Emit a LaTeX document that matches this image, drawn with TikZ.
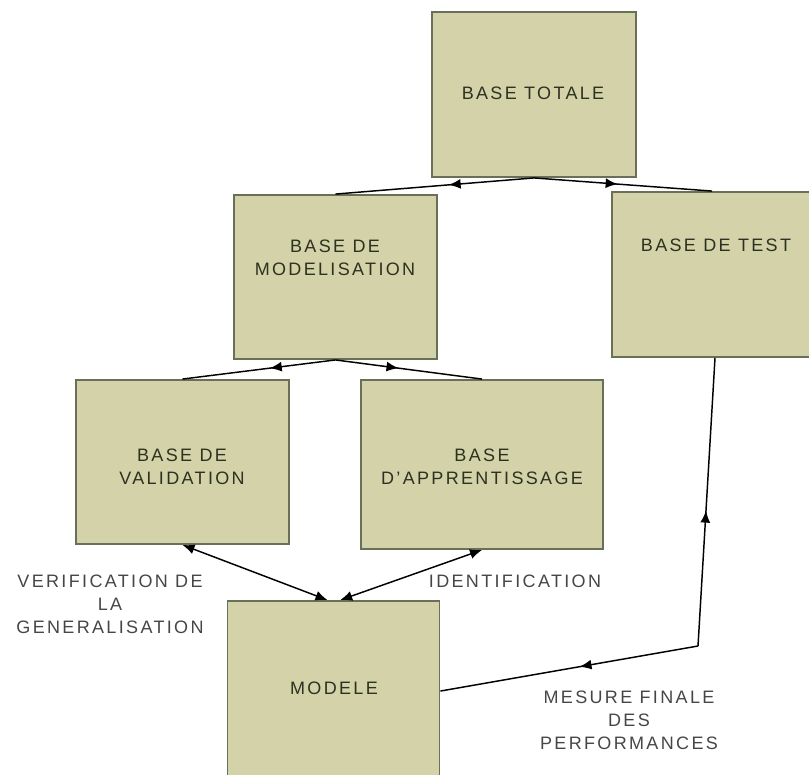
\documentclass[tikz,border=0pt]{standalone}
\usepackage{fontspec}
\setmainfont{Liberation Sans}[LetterSpace=13]
\usetikzlibrary{arrows.meta,decorations.markings}
\definecolor{boxfill}{RGB}{211,210,168}
\definecolor{boxline}{RGB}{105,112,88}
\definecolor{boxtext}{RGB}{45,50,32}
\definecolor{labeltext}{RGB}{70,70,70}
\tikzset{
  box/.style={draw=boxline, line width=1.4pt, fill=boxfill, rectangle, inner sep=0pt},
  boxtxt/.style={text=boxtext, align=center, inner sep=0pt, font=\fontsize{13.5}{17.25}\selectfont},
  lbl/.style={text=labeltext, align=center, inner sep=0pt, font=\fontsize{13.5}{17.25}\selectfont},
  conn/.style={draw=black, line width=1.1pt},
  tip/.tip={Latex[length=9pt,width=7.5pt]},
  midarrow/.style={postaction={decorate,decoration={markings,mark=at position #1 with {\arrow{tip}}}}}
}
\begin{document}
\begin{tikzpicture}[x=0.75pt,y=-0.75pt]
\useasboundingbox (0,0) rectangle (809,774);
% boxes
\node[box, minimum width={204*0.75pt}, minimum height={165*0.75pt}] (total) at (534,94.5) {};
\node[box, minimum width={203*0.75pt}, minimum height={164*0.75pt}] (model) at (335.5,277) {};
\node[box, minimum width={200*0.75pt}, minimum height={165*0.75pt}] (test) at (712,274.5) {};
\node[box, minimum width={213*0.75pt}, minimum height={164*0.75pt}] (valid) at (182.5,462) {};
\node[box, minimum width={242*0.75pt}, minimum height={169*0.75pt}] (appr) at (482,464.5) {};
\node[box, minimum width={212*0.75pt}, minimum height={175*0.75pt}] (modele) at (333.5,688.5) {};
% box texts
\node[boxtxt] (totaltxt) at (533,93) {BASE TOTALE};
\node[boxtxt] (modeltxt) at (335,258) {BASE DE\\MODELISATION};
\node[boxtxt] (testtxt) at (716,245) {BASE DE TEST};
\node[boxtxt] (validtxt) at (182,467) {BASE DE\\VALIDATION};
\node[boxtxt] (apprtxt) at (482,466.5) {BASE\\D'APPRENTISSAGE};
\node[boxtxt] (modeletxt) at (334,688) {MODELE};
% connectors
\draw[conn, midarrow=0.43] (total.south) -- (model.north);
\draw[conn, midarrow=0.47] (total.south) -- (test.north);
\draw[conn, midarrow=0.43] (model.south) -- (valid.north);
\draw[conn, midarrow=0.43] (model.south) -- (appr.north);
\draw[conn, {tip}-{tip}] (valid.south) -- ([xshift=-4.5pt]modele.north);
\draw[conn, {tip}-{tip}] (appr.south) -- ([xshift=5pt]modele.north);
\coordinate (corner) at (698,646);
\draw[conn, midarrow=0.47] (corner) -- ([xshift=2.25pt]test.south);
\draw[conn, midarrow=0.46] (corner) -- ([yshift=-1.9pt]modele.east);
% labels
\node[lbl] (verif) at (110,604) {VERIFICATION DE\\LA\\GENERALISATION};
\node[lbl] (ident) at (515,581) {IDENTIFICATION};
\node[lbl] (mesure) at (629,720) {MESURE FINALE\\DES\\PERFORMANCES};
\end{tikzpicture}
\end{document}
